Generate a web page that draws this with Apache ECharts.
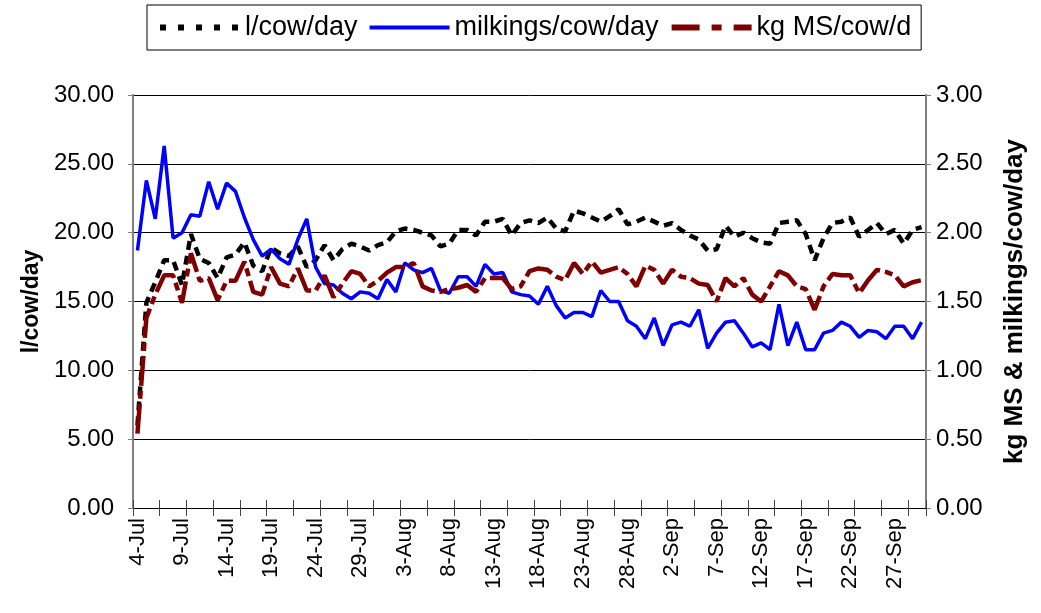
<!DOCTYPE html>
<html>
<head>
<meta charset="utf-8">
<script src="https://cdn.jsdelivr.net/npm/echarts@6/dist/echarts.min.js"></script>
<style>
html,body{margin:0;padding:0;background:#fff;}
#c{width:1041px;height:613px;}
</style>
</head>
<body>
<div id="c"></div>
<script>
var categories = [
"4-Jul","5-Jul","6-Jul","7-Jul","8-Jul","9-Jul","10-Jul","11-Jul","12-Jul","13-Jul","14-Jul","15-Jul","16-Jul","17-Jul","18-Jul","19-Jul","20-Jul","21-Jul","22-Jul","23-Jul","24-Jul","25-Jul","26-Jul","27-Jul","28-Jul","29-Jul","30-Jul","31-Jul",
"1-Aug","2-Aug","3-Aug","4-Aug","5-Aug","6-Aug","7-Aug","8-Aug","9-Aug","10-Aug","11-Aug","12-Aug","13-Aug","14-Aug","15-Aug","16-Aug","17-Aug","18-Aug","19-Aug","20-Aug","21-Aug","22-Aug","23-Aug","24-Aug","25-Aug","26-Aug","27-Aug","28-Aug","29-Aug","30-Aug","31-Aug",
"1-Sep","2-Sep","3-Sep","4-Sep","5-Sep","6-Sep","7-Sep","8-Sep","9-Sep","10-Sep","11-Sep","12-Sep","13-Sep","14-Sep","15-Sep","16-Sep","17-Sep","18-Sep","19-Sep","20-Sep","21-Sep","22-Sep","23-Sep","24-Sep","25-Sep","26-Sep","27-Sep","28-Sep","29-Sep","30-Sep"
];

var litresPerCowDay = [
6.0,14.9,16.4,18.0,18.0,16.2,19.9,18.1,17.8,16.7,18.2,18.4,19.3,17.6,17.2,18.9,18.5,18.3,19.0,17.5,
18.0,19.1,18.0,18.8,19.2,19.0,18.7,19.1,19.3,20.1,20.3,20.2,20.0,19.8,19.0,19.2,20.2,20.2,19.8,20.8,
20.8,21.0,19.8,20.7,20.9,20.7,21.1,20.3,20.1,21.6,21.4,21.1,20.8,21.2,21.7,20.6,20.8,21.1,20.8,20.5,
20.7,20.2,19.8,19.5,18.7,18.8,20.5,19.7,20.0,19.6,19.3,19.2,20.7,20.8,20.9,19.9,18.0,19.6,20.7,20.8,
21.1,19.7,20.2,20.7,19.9,20.2,19.2,20.2,20.4
];

var milkingsPerCowDay = [
1.87,2.38,2.10,2.63,1.96,2.00,2.13,2.12,2.37,2.17,2.36,2.30,2.11,1.95,1.83,1.88,1.81,1.77,1.95,2.10,
1.75,1.63,1.62,1.56,1.52,1.57,1.56,1.52,1.66,1.57,1.78,1.73,1.71,1.74,1.58,1.56,1.68,1.68,1.61,1.77,
1.70,1.71,1.57,1.55,1.54,1.48,1.61,1.47,1.38,1.42,1.42,1.39,1.58,1.50,1.50,1.36,1.32,1.23,1.38,1.18,
1.33,1.35,1.32,1.44,1.16,1.27,1.35,1.36,1.27,1.17,1.20,1.15,1.48,1.18,1.35,1.15,1.15,1.27,1.29,1.35,
1.32,1.24,1.29,1.28,1.23,1.32,1.32,1.23,1.35
];

var kgMSPerCowDay = [
0.54,1.38,1.55,1.69,1.69,1.49,1.85,1.65,1.67,1.51,1.65,1.65,1.79,1.57,1.55,1.75,1.63,1.61,1.74,1.58,
1.58,1.69,1.53,1.63,1.72,1.70,1.61,1.65,1.71,1.75,1.75,1.78,1.61,1.58,1.57,1.59,1.60,1.62,1.57,1.67,
1.67,1.67,1.59,1.61,1.72,1.74,1.73,1.68,1.655,1.78,1.70,1.79,1.71,1.73,1.75,1.70,1.61,1.76,1.73,1.63,
1.73,1.68,1.67,1.63,1.62,1.50,1.67,1.61,1.67,1.55,1.50,1.61,1.72,1.69,1.61,1.59,1.44,1.61,1.70,1.69,
1.69,1.56,1.655,1.73,1.715,1.69,1.61,1.64,1.655
];

var leftTicks = {min:0, max:30, interval:5};
var rightTicks = {min:0, max:3, interval:0.5};

var FONT = 'Liberation Sans, Arial, sans-serif';
var NOSYM = {color: 'rgba(0,0,0,0)', borderWidth: 0, opacity: 0};
var chart = echarts.init(document.getElementById('c'));
chart.setOption({
  animation: false,
  backgroundColor: '#ffffff',
  grid: {left: 133, right: 115, top: 95, bottom: 105, containLabel: false},
  legend: {
    left: 147, top: 5,
    padding: [9, 10, 9, 10],
    borderColor: '#000', borderWidth: 1,
    itemWidth: 80, itemHeight: 14, itemGap: 10,
    textStyle: {fontFamily: FONT, fontSize: 27, color: '#000'},
    itemStyle: NOSYM,
    data: [
      {name: 'l/cow/day', itemStyle: NOSYM, lineStyle: {color: '#000', width: 6, type: [6, 12]}},
      {name: 'milkings/cow/day', itemStyle: NOSYM, lineStyle: {color: '#0000ff', width: 4, type: 'solid'}},
      {name: 'kg MS/cow/d', itemStyle: NOSYM, lineStyle: {color: '#800000', width: 6, type: [28, 12, 10, 12]}}
    ]
  },
  xAxis: [{
    type: 'category', data: categories, boundaryGap: true,
    axisLine: {lineStyle: {color: '#000', width: 1}},
    axisTick: {show: true, interval: 2, length: 8, lineStyle: {color: '#444'}},
    axisLabel: {interval: 4, rotate: 90, fontFamily: FONT, fontSize: 22, color: '#000', margin: 10},
    splitLine: {show: false}
  }, {
    type: 'category', data: categories, boundaryGap: true, position: 'bottom',
    axisLine: {show: false},
    axisTick: {show: true, inside: true, interval: 2, length: 8, lineStyle: {color: '#444'}},
    axisLabel: {show: false},
    splitLine: {show: false}
  }],
  yAxis: [{
    type: 'value', min: leftTicks.min, max: leftTicks.max, interval: leftTicks.interval,
    name: 'l/cow/day', nameLocation: 'middle', nameRotate: 90, nameGap: 90,
    nameTextStyle: {fontFamily: FONT, fontSize: 23, fontWeight: 'bold', color: '#000'},
    axisLine: {show: true, lineStyle: {color: '#808080', width: 2}},
    axisTick: {show: true, length: 5, lineStyle: {color: '#808080'}},
    axisLabel: {formatter: function(v){return v.toFixed(2);}, fontFamily: FONT, fontSize: 24, color: '#000', margin: 19},
    splitLine: {show: true, lineStyle: {color: '#000', width: 1}}
  }, {
    type: 'value', min: rightTicks.min, max: rightTicks.max, interval: rightTicks.interval, position: 'right',
    name: 'kg MS & milkings/cow/day', nameLocation: 'middle', nameRotate: 90, nameGap: 76,
    nameTextStyle: {fontFamily: FONT, fontSize: 26, fontWeight: 'bold', color: '#000'},
    axisLine: {show: true, lineStyle: {color: '#808080', width: 2}},
    axisTick: {show: true, length: 5, lineStyle: {color: '#808080'}},
    axisLabel: {formatter: function(v){return v.toFixed(2);}, fontFamily: FONT, fontSize: 24, color: '#000', margin: 10},
    splitLine: {show: false}
  }],
  series: [{
    name: 'l/cow/day', type: 'line', yAxisIndex: 0, data: litresPerCowDay,
    symbol: 'none', itemStyle: {color: '#000'},
    lineStyle: {color: '#000', width: 4.5, type: [9, 6]}, z: 2
  }, {
    name: 'milkings/cow/day', type: 'line', yAxisIndex: 1, data: milkingsPerCowDay,
    symbol: 'none', itemStyle: {color: '#0000ff'},
    lineStyle: {color: '#0000ff', width: 3.5, type: 'solid'}, z: 3
  }, {
    name: 'kg MS/cow/d', type: 'line', yAxisIndex: 1, data: kgMSPerCowDay,
    symbol: 'none', itemStyle: {color: '#800000'},
    lineStyle: {color: '#800000', width: 4.5, type: [30, 5, 8, 5]}, z: 4
  }]
});
</script>
</body>
</html>
